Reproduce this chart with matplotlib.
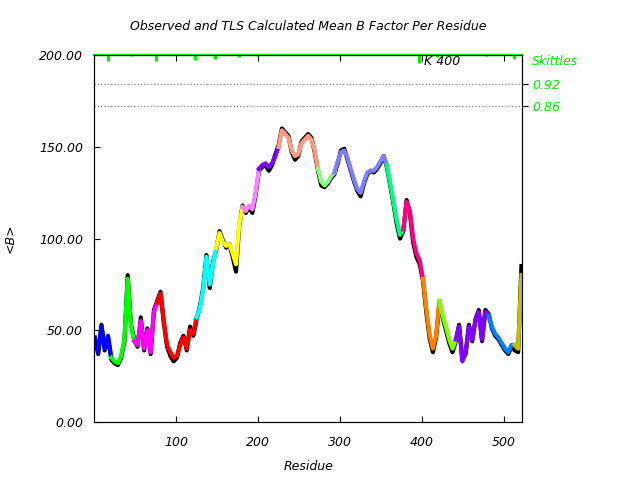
import numpy as np
import matplotlib
matplotlib.use("Agg")
import matplotlib.pyplot as plt

# residues sampled every 4
res = np.arange(1, 522, 4)

tls = [45, 38, 52, 40, 47,
       35, 33, 32, 36, 45, 78, 52,
       44, 42, 55, 40, 50, 38, 60,
       65, 70, 55, 42, 38, 35, 36, 42, 46, 40, 50, 48,
       57, 62, 72, 90, 75, 86,
       95, 103, 98, 96, 97, 92, 86, 108,
       117, 115, 118, 116, 125,
       138, 140, 141, 139, 141, 145,
       150, 159, 157, 155, 148, 145, 146, 152, 154, 156, 154, 148,
       138, 131, 129, 131, 134,
       136, 142, 147, 148, 144, 138, 132, 127, 125, 131, 136, 137, 137, 139, 142, 145,
       140, 130, 120, 110, 102,
       105, 120, 115, 100, 92, 88,
       78, 62, 48, 40, 47,
       66, 58, 52, 45, 40,
       45, 52, 33, 38, 52, 45, 55, 60, 45, 60,
       58, 52, 48, 46, 43, 40, 38, 42,
       42, 40, 80]

obs = [46, 37, 53, 39, 46,
       34, 32, 31, 35, 44, 80, 53,
       45, 41, 57, 39, 51, 37, 61,
       66, 71, 54, 41, 36, 33, 35, 43, 47, 39, 52, 47,
       56, 63, 73, 91, 73, 87,
       94, 104, 99, 95, 97, 90, 82, 107,
       118, 114, 117, 114, 124,
       137, 139, 140, 137, 140, 146,
       151, 160, 158, 156, 147, 143, 145, 153, 155, 157, 155, 147,
       137, 129, 128, 130, 133,
       135, 141, 148, 149, 143, 137, 131, 126, 123, 130, 135, 137, 136, 138, 141, 145,
       139, 129, 119, 108, 100,
       104, 121, 114, 98, 90, 86,
       77, 60, 46, 38, 46,
       65, 57, 50, 43, 38,
       44, 53, 34, 37, 53, 44, 56, 61, 44, 61,
       59, 51, 47, 45, 42, 39, 37, 41,
       39, 38, 85]

seg_counts = [5, 7, 7, 12, 6, 8, 5, 6, 12, 5, 16, 5, 6, 5, 5, 10, 8, 3]
seg_colors = ['#0000ff', '#00ff00', '#ff00ff', '#ff0000', '#00ffff', '#ffff00',
              '#ff80ff', '#8000ff', '#ff9980', '#80ff80', '#8080ff', '#00ff80',
              '#ff0080', '#ff8000', '#80ff00', '#8000ff', '#0080ff', '#c0c000']

# green marks hanging from the top edge
top_ticks = [17, 46, 76, 123, 148, 177, 199, 396, 418, 478, 512]
top_depth = [3.3, 0.6, 3.3, 2.7, 2.2, 1.1, 0.6, 4.4, 1.1, 0.6, 2.2]

skittles_levels = [184.2, 172.2]
skittles_labels = ['0.92', '0.86']

green = '#00f000'
font = dict(style='italic', size=9)

fig = plt.figure(figsize=(6.4, 4.8), dpi=100)
ax = fig.add_axes([0.147, 0.121, 0.669, 0.764])

ax.plot(res, obs, color='black', lw=3.0, zorder=2)
start = 0
for n, c in zip(seg_counts, seg_colors):
    end = min(start + n + 1, len(res))
    ax.plot(res[start:end], tls[start:end], color=c, lw=3.0, zorder=3)
    start += n

for lv in skittles_levels:
    ax.axhline(lv, color='#888888', ls=':', lw=0.9, zorder=1)

ax.axhline(200, color=green, lw=1.6, zorder=4, clip_on=False)
ax.vlines(top_ticks, [200 - d for d in top_depth], 200, color=green, lw=2.2, zorder=4)

ax.text(402, 196.6, 'K 400', ha='left', va='center', **font)

ax.set_xlim(0, 522)
ax.set_ylim(0, 200)
ax.set_xticks([100, 200, 300, 400, 500])
ax.set_yticks([0, 50, 100, 150, 200])
ax.set_yticklabels(['0.00', '50.00', '100.00', '150.00', '200.00'], **font)
ax.set_xticklabels(['100', '200', '300', '400', '500'], **font)
ax.tick_params(axis='x', direction='in', top=True, length=4, pad=10)
ax.tick_params(axis='y', direction='in', length=4, pad=8)

ax2 = ax.twinx()
ax2.set_ylim(0, 200)
ax2.set_yticks(skittles_levels)
ax2.set_yticklabels(skittles_labels, color=green, **font)
ax2.tick_params(axis='y', direction='out', length=4, pad=3)
ax2.text(1.022, 196.7, 'Skittles', transform=ax2.get_yaxis_transform(),
         color=green, ha='left', va='center', **font)

ax.set_title('Observed and TLS Calculated Mean B Factor Per Residue', pad=18, **font)
ax.set_xlabel('Residue', labelpad=8, **font)
ax.set_ylabel('<B>', labelpad=16, **font)

fig.savefig('out.png')
